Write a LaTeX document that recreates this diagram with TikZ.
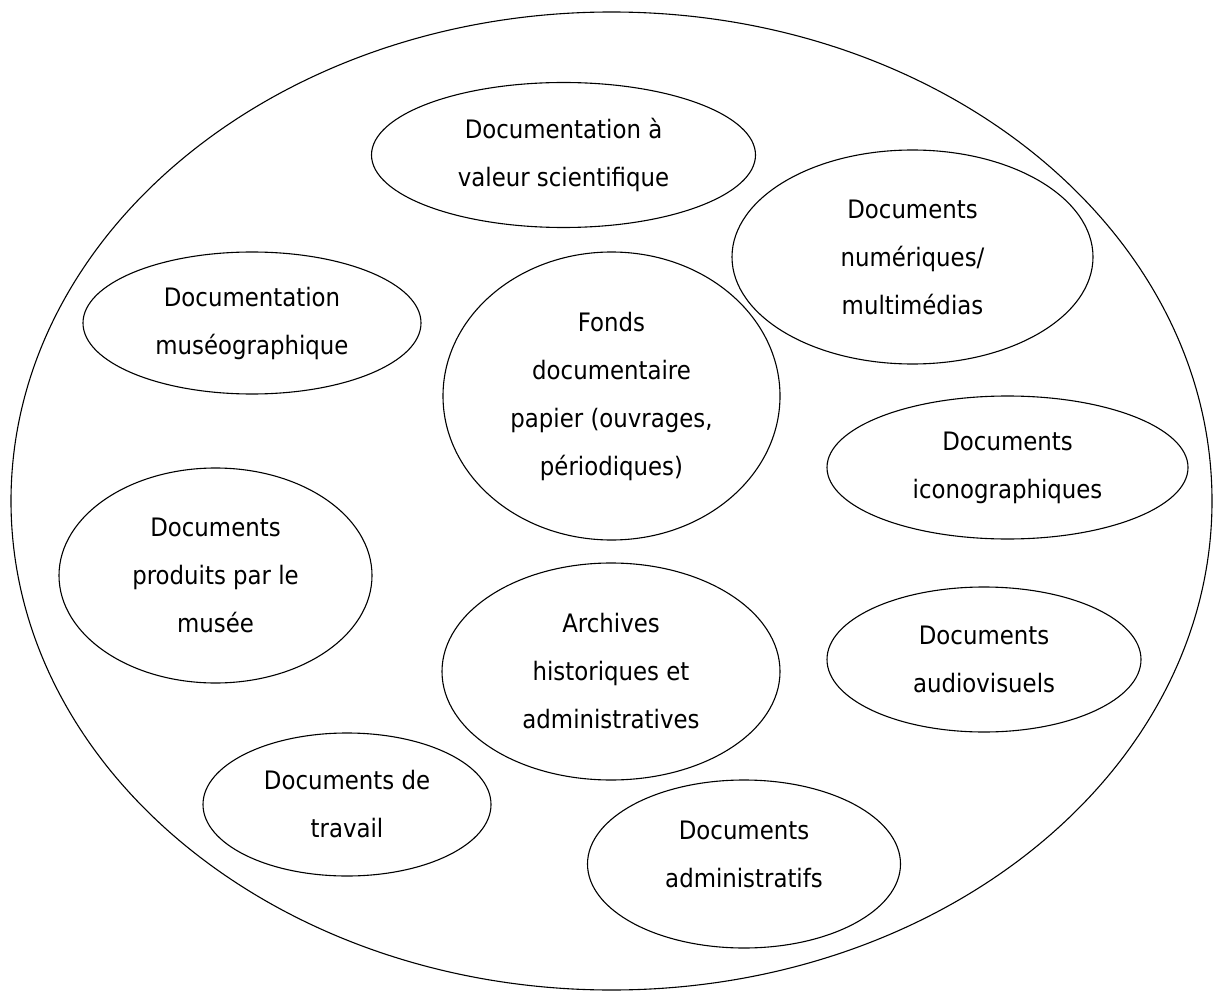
\documentclass[tikz,border=0pt]{standalone}
\usepackage{fontspec}
\setmainfont{DejaVu Sans}[FakeStretch=0.9]
\usetikzlibrary{shapes.geometric}

\tikzset{bubble/.style={draw, ellipse, line width=1.1pt, inner sep=0pt, align=center,
  font=\fontsize{25.4}{48}\selectfont}}

\begin{document}
\begin{tikzpicture}[x=1pt,y=-1pt]
\useasboundingbox (0,0) rectangle (1215,992);
\node[bubble, minimum width=1201pt, minimum height=978pt] (musee) at (611.5,501) {}; % outer ellipse
% edit here for the inner ellipses
\node[bubble, minimum width=384pt, minimum height=145pt] (sci) at (563.5,155) {Documentation à\\valeur scientifique};
\node[bubble, minimum width=361pt, minimum height=214pt] (num) at (912.5,257) {Documents\\numériques/\\multimédias};
\node[bubble, minimum width=338pt, minimum height=142pt] (museo) at (252,323) {Documentation\\muséographique};
\node[bubble, minimum width=337pt, minimum height=288pt] (fonds) at (611.5,396) {Fonds\\documentaire\\papier (ouvrages,\\périodiques)};
\node[bubble, minimum width=361pt, minimum height=143pt] (icono) at (1007.5,467.5) {Documents\\iconographiques};
\node[bubble, minimum width=313pt, minimum height=215pt] (produits) at (215.5,575.5) {Documents\\produits par le\\musée};
\node[bubble, minimum width=338pt, minimum height=217pt] (archives) at (611,671.5) {Archives\\historiques et\\administratives};
\node[bubble, minimum width=314pt, minimum height=145pt] (audio) at (984,659.5) {Documents\\audiovisuels};
\node[bubble, minimum width=288pt, minimum height=143pt] (travail) at (347,804.5) {Documents de\\travail};
\node[bubble, minimum width=313pt, minimum height=168pt] (admin) at (744,864) {Documents\\administratifs\rule[-20pt]{0pt}{0pt}}; % text sits high
\end{tikzpicture}
\end{document}
